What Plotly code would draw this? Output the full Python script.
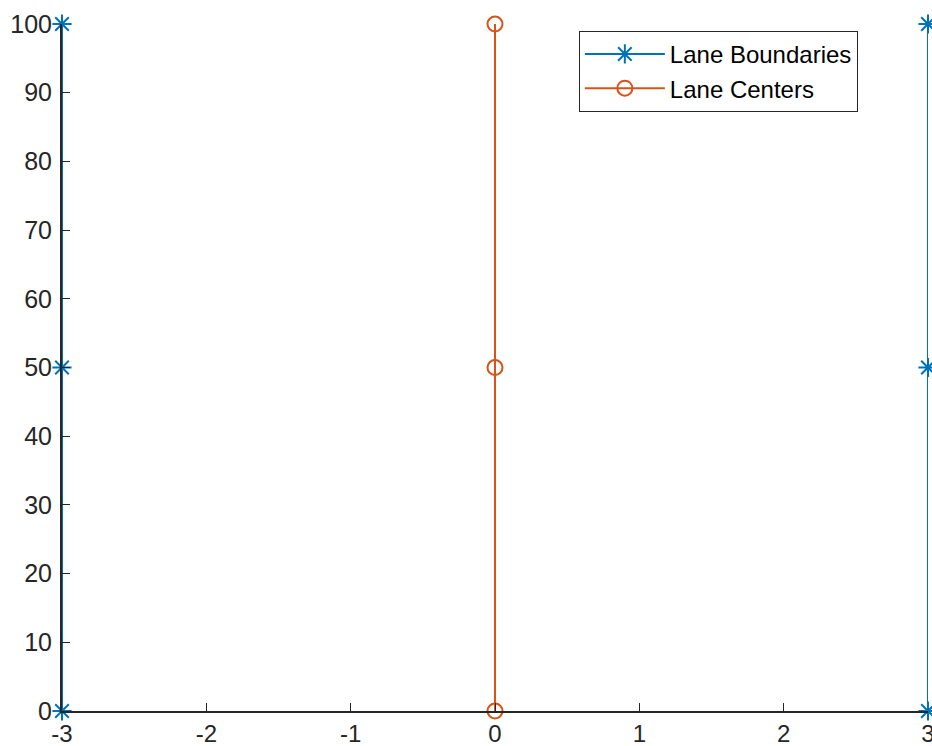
import plotly.graph_objects as go

# Data
boundary_left_x = [-3, -3, -3]
boundary_right_x = [3, 3, 3]
boundary_y = [0, 50, 100]
center_x = [0, 0, 0]
center_y = [0, 50, 100]

x_ticks = [-3, -2, -1, 0, 1, 2, 3]
y_ticks = [0, 10, 20, 30, 40, 50, 60, 70, 80, 90, 100]

blue = "#0072BD"
orange = "#D95319"
axis_col = "#262626"
font_fam = "Arial, Liberation Sans, Helvetica, sans-serif"

# Boundaries: two separate lines joined by None, as one legend entry
bx = boundary_left_x + [None] + boundary_right_x
by = boundary_y + [None] + boundary_y

fig = go.Figure()
fig.add_trace(go.Scatter(
    x=bx, y=by, mode="lines+markers", name="Lane Boundaries",
    line=dict(color=blue, width=2),
    marker=dict(symbol="asterisk-open", size=16, line=dict(color=blue, width=2), color=blue),
    cliponaxis=False,
))
fig.add_trace(go.Scatter(
    x=center_x, y=center_y, mode="lines+markers", name="Lane Centers",
    line=dict(color=orange, width=2),
    marker=dict(symbol="circle-open", size=15, line=dict(color=orange, width=2), color=orange),
    cliponaxis=False,
))

fig.update_layout(
    width=932, height=746,
    margin=dict(l=62, r=4, t=24, b=35, autoexpand=False),
    paper_bgcolor="white", plot_bgcolor="white",
    font=dict(family=font_fam, size=24, color=axis_col),
    showlegend=True,
    legend=dict(
        x=0.919, y=0.99, xanchor="right", yanchor="top",
        bgcolor="white", bordercolor="#262626", borderwidth=1,
        font=dict(family=font_fam, size=24, color="#000000"),
        itemwidth=80, tracegroupgap=0,
    ),
    xaxis=dict(
        range=[-3, 3], tickvals=x_ticks, ticktext=[str(v) for v in x_ticks],
        showgrid=False, zeroline=False, showline=True, linecolor=axis_col, linewidth=2,
        ticks="inside", ticklen=8, tickcolor=axis_col, tickwidth=1,
        tickfont=dict(size=24, color=axis_col), mirror=False, automargin=False,
        ticklabeloverflow="allow",
    ),
    yaxis=dict(
        range=[0, 100], tickvals=y_ticks, ticktext=[str(v) for v in y_ticks],
        showgrid=False, zeroline=False, showline=True, linecolor=axis_col, linewidth=2,
        ticks="inside", ticklen=8, tickcolor=axis_col, tickwidth=1,
        tickfont=dict(size=25, color=axis_col), mirror=False, automargin=False,
        ticklabelstandoff=3, ticklabeloverflow="allow",
    ),
)

fig.write_html("out.html", config={"displayModeBar": False},
               post_script="document.body.style.margin='0';")
